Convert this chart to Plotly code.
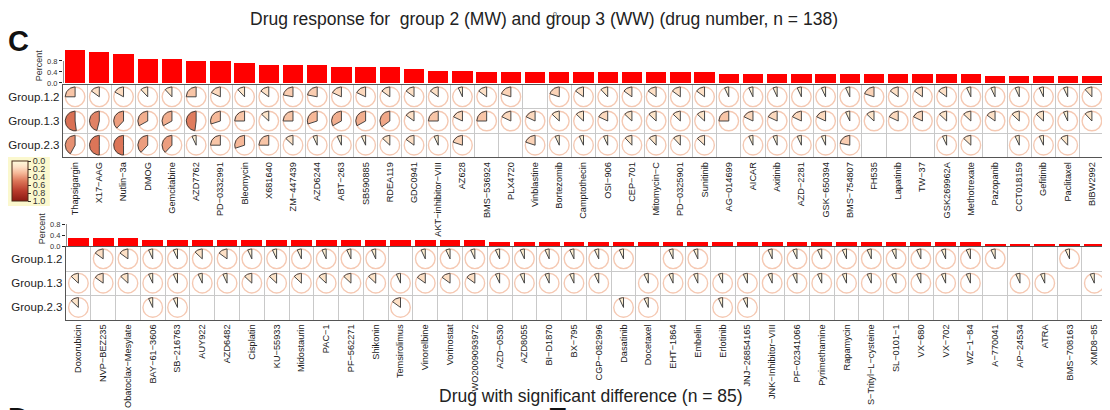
import numpy as np
import plotly.graph_objects as go
from plotly.colors import sample_colorscale

W, H = 1110, 410
OX, OY = 8, 8   # page offset of the figure inside the browser body

# ---------------- data ----------------
top_drugs = ["Thapsigargin", "X17\u2212AAG", "Nutlin\u22123a", "DMOG", "Gemcitabine", "AZD7762",
             "PD\u22120332991", "Bleomycin", "X681640", "ZM\u2212447439", "AZD6244", "ABT\u2212263",
             "SB590885", "RDEA119", "GDC0941", "AKT\u2212inhibitor\u2212VIII", "AZ628", "BMS\u2212536924",
             "PLX4720", "Vinblastine", "Bortezomib", "Camptothecin", "OSI\u2212906", "CEP\u2212701",
             "Mitomycin\u2212C", "PD\u22120325901", "Sunitinib", "AG\u2212014699", "AICAR", "Axitinib",
             "AZD\u22122281", "GSK\u2212650394", "BMS\u2212754807", "FH535", "Lapatinib", "TW\u221237",
             "GSK269962A", "Methotrexate", "Pazopanib", "CCT018159", "Gefitinib", "Paclitaxel",
             "BIBW2992"]
top_percent = [1.21, 1.14, 1.08, 0.88, 0.88, 0.81, 0.81, 0.74, 0.68, 0.68, 0.68, 0.61, 0.61,
               0.61, 0.53, 0.46, 0.46, 0.40, 0.40, 0.40, 0.40, 0.40, 0.40, 0.40, 0.40, 0.40,
               0.40, 0.33, 0.33, 0.33, 0.33, 0.33, 0.33, 0.33, 0.33, 0.33, 0.33, 0.33, 0.27,
               0.27, 0.27, 0.27, 0.27]
top_g12 = [0.25, 0.15, 0.17, 0.12, 0.12, 0.25, 0.18, 0.12, 0.15, 0.22, 0.22, 0.18, 0.18,
           0.15, 0.15, 0.15, 0.07, 0.15, 0.20, None, 0.20, 0.15, 0.12, 0.15, 0.15, 0.15,
           0.15, 0.07, 0.07, 0.07, 0.07, 0.07, 0.07, 0.20, 0.15, 0.15, 0.15, 0.07, 0.07,
           0.07, 0.07, 0.07, 0.12]
top_g13 = [0.52, 0.46, 0.38, 0.33, 0.33, 0.48, 0.30, 0.25, 0.13, 0.25, 0.30, 0.33, 0.33,
           0.35, 0.15, 0.25, 0.18, 0.25, 0.18, 0.18, 0.13, 0.13, 0.18, 0.13, 0.13, 0.13,
           0.13, 0.25, 0.18, 0.18, 0.18, 0.18, 0.07, 0.13, 0.18, 0.18, 0.13, 0.13, 0.15,
           0.13, 0.13, 0.07, 0.12]
top_g23 = [0.42, 0.50, 0.50, 0.38, 0.38, 0.07, 0.25, 0.30, 0.25, 0.13, 0.07, 0.07, 0.07,
           0.13, 0.15, 0.07, 0.20, None, None, 0.20, 0.07, 0.07, 0.07, 0.12, 0.12, 0.12,
           0.13, None, 0.07, 0.07, 0.07, 0.07, 0.22, None, None, None, 0.07, 0.13, None,
           0.07, 0.07, 0.12, None]

bottom_drugs = ["Doxorubicin", "NVP\u2212BEZ235", "Obatoclax\u2212Mesylate", "BAY\u221261\u22123606",
                "SB\u2212216763", "AUY922", "AZD6482", "Cisplatin", "KU\u221255933", "Midostaurin",
                "PAC\u22121", "PF\u2212562271", "Shikonin", "Temsirolimus", "Vinorelbine", "Vorinostat",
                "WO2009093972", "AZD\u22120530", "AZD8055", "BI\u2212D1870", "BX\u2212795", "CGP\u2212082996",
                "Dasatinib", "Docetaxel", "EHT\u22121864", "Embelin", "Erlotinib", "JNJ\u221226854165",
                "JNK\u2212Inhibitor\u2212VIII", "PF\u221202341066", "Pyrimethamine", "Rapamycin",
                "S\u2212Trityl\u2212L\u2212cysteine", "SL\u22120101\u22121", "VX\u2212680", "VX\u2212702",
                "WZ\u22121\u221284", "A\u2212770041", "AP\u221224534", "ATRA", "BMS\u2212708163", "XMD8\u221285"]
bottom_percent = [0.30, 0.30, 0.30, 0.23, 0.23, 0.23, 0.23, 0.23, 0.23, 0.23, 0.23, 0.23,
                  0.23, 0.23, 0.23, 0.23, 0.23, 0.16, 0.16, 0.16, 0.16, 0.16, 0.16, 0.16,
                  0.16, 0.16, 0.16, 0.16, 0.16, 0.16, 0.16, 0.16, 0.16, 0.16, 0.16, 0.16,
                  0.16, 0.08, 0.08, 0.08, 0.08, 0.08]
bottom_g12 = [None, 0.15, 0.15, 0.07, 0.07, 0.13, 0.15, 0.07, 0.07, 0.07, 0.07, 0.07, 0.07,
              None, 0.07, 0.07, 0.07, 0.07, 0.07, 0.07, 0.07, 0.07, 0.07, None, 0.07, 0.07,
              None, None, 0.07, 0.07, 0.07, 0.07, 0.07, 0.07, 0.07, 0.07, 0.07, 0.07, None,
              None, 0.07, None]
bottom_g13 = [0.13, 0.15, 0.13, 0.07, 0.07, 0.07, 0.07, 0.13, 0.13, 0.13, 0.13, 0.13, 0.13,
              0.07, 0.15, 0.15, 0.15, 0.07, 0.07, 0.07, 0.07, 0.07, None, 0.07, 0.07, 0.07,
              0.07, 0.07, 0.07, 0.07, 0.07, 0.07, 0.07, 0.07, 0.07, 0.07, 0.07, None, 0.07,
              0.07, None, 0.07]
bottom_g23 = [0.13, None, None, 0.07, 0.07, None, None, None, None, None, None, None, None,
              0.15, None, None, None, None, None, None, None, None, 0.07, 0.07, None, None,
              0.07, 0.07, None, None, None, None, None, None, None, None, None, None, None,
              None, None, None]

group_labels = ["Group.1.2", "Group.1.3", "Group.2.3"]
percent_ticks = [0.0, 0.4, 0.8]
colorbar_ticks = [0.0, 0.2, 0.4, 0.6, 0.8, 1.0]

title_text = "Drug response for  group 2 (MW) and group 3 (WW) (drug number, n = 138)"
xlabel_text = "Drug with significant difference (n = 85)"

# ---------------- style ----------------
FONT = "Liberation Sans, Arial, sans-serif"
COLORSCALE = [[0.0, "#FFFCDC"], [0.15, "#FDE0C6"], [0.3, "#F6B898"], [0.5, "#DC7558"],
              [0.75, "#B83A2B"], [1.0, "#8B1A12"]]
GRID = "#C9C9C9"
FRAME = "#555555"
RING = "#F5C9B3"
R_PX = 9.8
BAR_MAX = 1.25          # bar axis range top (data units)
PX_PER_UNIT = 22 / 0.8  # vertical pixels per percent unit


def px(x):
    return (x - OX) / W


def py(y):
    return 1 - (y - OY) / H


fig = go.Figure()

panels = [
    dict(drugs=top_drugs, pct=top_percent, groups=[top_g12, top_g13, top_g23],
         xr=(63, 1104), base=83, grid_y=(84.7, 157.3),
         ax=("x", "y", "x2", "y2"), keys=("xaxis", "yaxis", "xaxis2", "yaxis2")),
    dict(drugs=bottom_drugs, pct=bottom_percent, groups=[bottom_g12, bottom_g13, bottom_g23],
         xr=(66, 1106.7), base=246, grid_y=(246.7, 319.6),
         ax=("x3", "y3", "x4", "y4"), keys=("xaxis3", "yaxis3", "xaxis4", "yaxis4")),
]

layout_axes = {}
for p in panels:
    n = len(p["drugs"])
    xb, yb, xg, yg = p["ax"]
    kxb, kyb, kxg, kyg = p["keys"]
    xdom = [px(p["xr"][0]), px(p["xr"][1])]
    colpx = (p["xr"][1] - p["xr"][0]) / n
    rowpx = (p["grid_y"][1] - p["grid_y"][0]) / 3
    rx, ry = R_PX / colpx, R_PX / rowpx

    # bars
    fig.add_trace(go.Bar(x=list(range(n)), y=p["pct"], xaxis=xb, yaxis=yb, width=0.84,
                         marker=dict(color="#FF0000", line=dict(width=0)),
                         hoverinfo="skip", showlegend=False))
    # percent axis line, spanning only the tick range (as in R)
    fig.add_trace(go.Scatter(x=[-0.5, -0.5], y=[percent_ticks[0], percent_ticks[-1]],
                             xaxis=xb, yaxis=yb, mode="lines", cliponaxis=False,
                             line=dict(color="#222222", width=1),
                             hoverinfo="skip", showlegend=False))

    # rings and wedges
    ring_x, ring_y = [], []
    wedges = []
    for r, vals in enumerate(p["groups"]):
        yc = 2 - r
        for c, v in enumerate(vals):
            if v is None:
                continue
            ring_x.append(c)
            ring_y.append(yc)
            wedges.append((c, yc, v))
    fig.add_trace(go.Scatter(x=ring_x, y=ring_y, xaxis=xg, yaxis=yg, mode="markers",
                             marker=dict(symbol="circle-open", size=2 * R_PX, color=RING,
                                         line=dict(color=RING, width=1.4)),
                             hoverinfo="skip", showlegend=False))
    for c, yc, v in wedges:
        npts = max(3, int(v * 80))
        th = np.radians(90 + np.linspace(0, 360 * v, npts))
        xs = [c] + list(c + rx * np.cos(th)) + [c]
        ys = [yc] + list(yc + ry * np.sin(th)) + [yc]
        col = sample_colorscale(COLORSCALE, [v])[0]
        fig.add_trace(go.Scatter(x=xs, y=ys, xaxis=xg, yaxis=yg, mode="lines", fill="toself",
                                 fillcolor=col, line=dict(color="#333333", width=0.9),
                                 hoverinfo="skip", showlegend=False))

    base = p["base"]
    layout_axes[kxb] = dict(domain=xdom, range=[-0.5, n - 0.5], visible=False, anchor=yb,
                            fixedrange=True)
    layout_axes[kyb] = dict(domain=[py(base), py(base - BAR_MAX * PX_PER_UNIT)],
                            range=[0, BAR_MAX], anchor=xb, tickvals=percent_ticks,
                            ticktext=[f"{t:.1f}" for t in percent_ticks],
                            ticks="outside", ticklen=3, tickwidth=1, tickcolor="#222",
                            showline=False, showgrid=False, zeroline=False,
                            tickfont=dict(size=7.5, color="#333"),
                            title=dict(text="Percent", font=dict(size=9, color="#333"), standoff=2))
    layout_axes[kxg] = dict(domain=xdom, range=[-0.5, n - 0.5], anchor=yg,
                            tickvals=list(range(n)), ticktext=p["drugs"], tickangle=-90,
                            tickfont=dict(size=9.2, color="#222"), ticks="", showgrid=False,
                            zeroline=False, showline=True, mirror=True, linecolor=FRAME,
                            linewidth=1.4,
                            minor=dict(tickvals=[k + 0.5 for k in range(n - 1)], showgrid=True,
                                       gridcolor=GRID, gridwidth=1, ticks=""))
    layout_axes[kyg] = dict(domain=[py(p["grid_y"][1]), py(p["grid_y"][0])], range=[-0.5, 2.5],
                            anchor=xg, tickvals=[2, 1, 0], ticktext=group_labels, ticks="",
                            tickfont=dict(size=11.5, color="#222"), showgrid=False,
                            zeroline=False, showline=True, mirror=True, linecolor=FRAME,
                            linewidth=1.4,
                            minor=dict(tickvals=[0.5, 1.5], showgrid=True, gridcolor=GRID,
                                       gridwidth=1, ticks=""))

# colour bar (0.0 on top, 1.0 at bottom)
cb_scale = [[1 - s, c] for s, c in reversed(COLORSCALE)]
fig.add_trace(go.Scatter(x=[0], y=[0], xaxis="x2", yaxis="y2", mode="markers",
                         marker=dict(size=1, opacity=0, color=[0], cmin=0, cmax=1,
                                     colorscale=cb_scale, showscale=True,
                                     colorbar=dict(x=px(8), xanchor="left", y=py(181),
                                                   yanchor="middle", lenmode="pixels", len=48,
                                                   thicknessmode="pixels", thickness=16,
                                                   xpad=4, ypad=4, bgcolor="#FBF8CE",
                                                   outlinecolor="#4a2a18", outlinewidth=1,
                                                   tickvals=[1 - t for t in colorbar_ticks],
                                                   ticktext=[f"{t:.1f}" for t in colorbar_ticks],
                                                   ticks="outside", ticklen=3, tickwidth=1,
                                                   tickcolor="#333",
                                                   tickfont=dict(size=9, color="#333"))),
                         hoverinfo="skip", showlegend=False))

annotations = [
    dict(text=title_text, x=px(544), y=py(19), xref="paper", yref="paper", showarrow=False,
         font=dict(size=17.5, color="#222"), xanchor="center", yanchor="middle"),
    dict(text=xlabel_text, x=px(591), y=py(396), xref="paper", yref="paper", showarrow=False,
         font=dict(size=17.5, color="#222"), xanchor="center", yanchor="middle"),
    dict(text="<b>C</b>", x=px(6), y=py(41), xref="paper", yref="paper", showarrow=False,
         font=dict(size=29, color="#111"), xanchor="left", yanchor="middle"),
    dict(text="o", x=px(555), y=py(8), xref="paper", yref="paper", showarrow=False,
         font=dict(size=7, color="#444"), xanchor="center", yanchor="top"),
    dict(text="<b>D</b>", x=px(6), y=py(400), xref="paper", yref="paper", showarrow=False,
         font=dict(size=29, color="#111"), xanchor="left", yanchor="top"),
    dict(text="<b>E</b>", x=px(546), y=py(400), xref="paper", yref="paper", showarrow=False,
         font=dict(size=29, color="#111"), xanchor="left", yanchor="top"),
]

fig.update_layout(width=W, height=H, autosize=False,
                  margin=dict(l=0, r=0, t=0, b=0, autoexpand=False),
                  paper_bgcolor="white", plot_bgcolor="white", bargap=0,
                  font=dict(family=FONT, color="#222"), showlegend=False,
                  annotations=annotations, **layout_axes)

fig.write_html("out.html")
